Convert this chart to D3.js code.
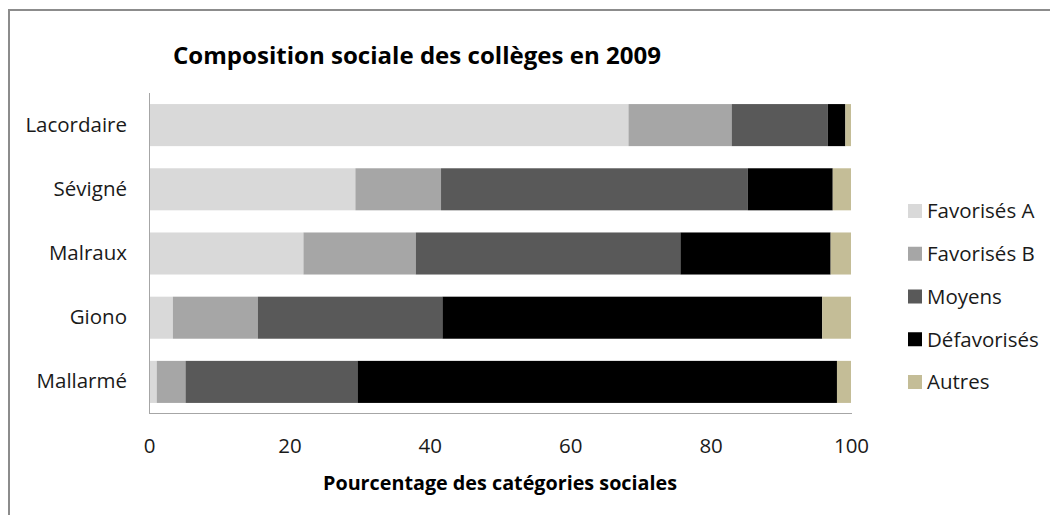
<!DOCTYPE html>
<html>
<head>
<meta charset="utf-8">
<script src="https://cdn.jsdelivr.net/npm/d3@7"></script>
<style>
  html, body { margin: 0; padding: 0; background: #fff; }
  svg { display: block; font-family: "Open Sans", "Noto Sans", sans-serif; }
</style>
</head>
<body>
<svg id="chart" width="1050" height="515"></svg>
<script>
const categories = ["Lacordaire", "Sévigné", "Malraux", "Giono", "Mallarmé"];
const seriesNames = ["Favorisés A", "Favorisés B", "Moyens", "Défavorisés", "Autres"];
const favorisesA  = [68.3, 29.4, 22.0,  3.4,  1.1];
const favorisesB  = [14.7, 12.2, 16.0, 12.1,  4.1];
const moyens      = [13.7, 43.7, 37.7, 26.3, 24.5];
const defavorises = [ 2.5, 12.1, 21.4, 54.1, 68.3];
const autres      = [ 0.8,  2.6,  2.9,  4.1,  2.0];
const xTicks = [0, 20, 40, 60, 80, 100];
const colors = ["#d9d9d9", "#a6a6a6", "#595959", "#000000", "#c4bd97"];
const title = "Composition sociale des collèges en 2009";
const xTitle = "Pourcentage des catégories sociales";

const seriesValues = [favorisesA, favorisesB, moyens, defavorises, autres];
const rows = categories.map((c, i) => {
  const r = { cat: c };
  seriesNames.forEach((s, j) => r[s] = seriesValues[j][i]);
  return r;
});
const stacked = d3.stack().keys(seriesNames)(rows);

const svg = d3.select("#chart");

// chart border
svg.append("rect")
  .attr("x", 9).attr("y", 10).attr("width", 1100).attr("height", 600)
  .attr("fill", "none").attr("stroke", "#8c8c8c").attr("stroke-width", 2);

const x = d3.scaleLinear().domain([0, 100]).range([149, 851]);
const y = d3.scaleBand().domain(categories).range([93, 414])
  .paddingInner(0.345).paddingOuter(0.1725);

// bars
svg.append("g").selectAll("g")
  .data(stacked).join("g")
  .attr("fill", (d, i) => colors[i])
  .selectAll("rect")
  .data(d => d).join("rect")
  .attr("x", d => x(d[0]))
  .attr("y", d => y(d.data.cat))
  .attr("width", d => x(d[1]) - x(d[0]))
  .attr("height", y.bandwidth());

// axis lines
svg.append("line")
  .attr("x1", 149.5).attr("x2", 149.5).attr("y1", 93).attr("y2", 414)
  .attr("stroke", "#a6a6a6").attr("stroke-width", 1);
svg.append("line")
  .attr("x1", 149).attr("x2", 852).attr("y1", 413.5).attr("y2", 413.5)
  .attr("stroke", "#a6a6a6").attr("stroke-width", 1);

// x axis ticks labels
const xAxis = svg.append("g")
  .attr("transform", "translate(0,414)")
  .call(d3.axisBottom(x).tickValues(xTicks).tickSize(0).tickPadding(24));
xAxis.select(".domain").remove();
xAxis.selectAll("text")
  .attr("font-family", "'Open Sans', sans-serif")
  .attr("font-size", 20.5).attr("fill", "#1a1a1a");

// y axis labels
const yAxis = svg.append("g")
  .attr("transform", "translate(149,0)")
  .call(d3.axisLeft(y).tickSize(0).tickPadding(22));
yAxis.select(".domain").remove();
yAxis.selectAll("text")
  .attr("font-family", "'Open Sans', sans-serif")
  .attr("font-size", 20.5).attr("fill", "#1a1a1a");

// title
svg.append("text")
  .attr("x", 173).attr("y", 64)
  .attr("font-size", 24).attr("font-weight", "bold").attr("fill", "#000")
  .attr("textLength", 488).attr("lengthAdjust", "spacingAndGlyphs")
  .text(title);

// x axis title
svg.append("text")
  .attr("x", 323).attr("y", 490)
  .attr("font-size", 19.5).attr("font-weight", "bold").attr("fill", "#000")
  .attr("textLength", 354).attr("lengthAdjust", "spacingAndGlyphs")
  .text(xTitle);

// legend
const legend = svg.append("g");
const ly = d3.scalePoint().domain(seriesNames).range([211, 382]);
const li = legend.selectAll("g").data(seriesNames).join("g")
  .attr("transform", d => `translate(0,${ly(d)})`);
li.append("rect")
  .attr("x", 908).attr("y", -7).attr("width", 14).attr("height", 14)
  .attr("fill", (d, i) => colors[i]);
li.append("text")
  .attr("x", 927).attr("y", 0).attr("dy", "0.36em")
  .attr("font-size", 20.5).attr("fill", "#1a1a1a")
  .text(d => d);
</script>
</body>
</html>
